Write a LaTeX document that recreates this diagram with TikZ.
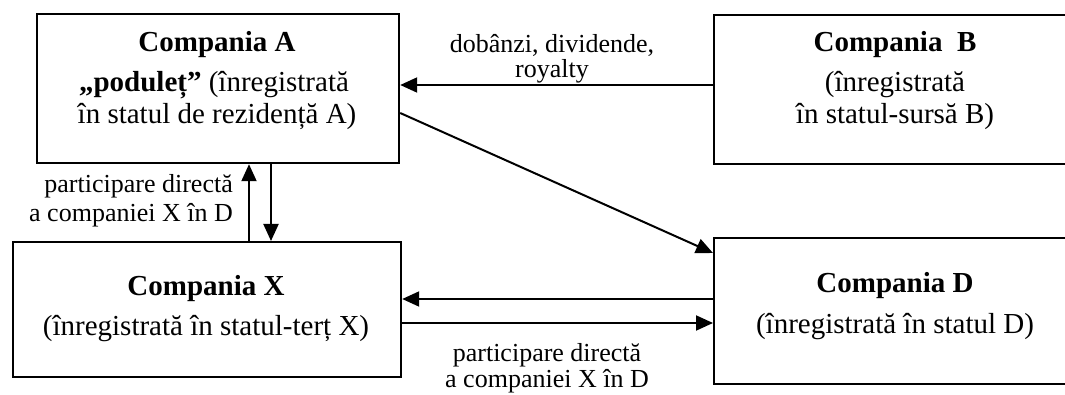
\documentclass[tikz,border=0pt]{standalone}
\usepackage{fontspec}
\setmainfont{Liberation Serif}
\usetikzlibrary{arrows.meta}
\begin{document}
\begin{tikzpicture}[x=1pt,y=-1pt,
  box/.style={draw, line width=2.2pt, rectangle, anchor=north west, inner sep=0pt},
  ttl/.style={font=\fontsize{29}{33}\selectfont\bfseries, anchor=base, inner sep=0pt},
  txt/.style={font=\fontsize{29}{33}\selectfont, anchor=base, inner sep=0pt},
  lbl/.style={font=\fontsize{26}{29}\selectfont, anchor=base, inner sep=0pt},
  arr/.style={line width=2pt, -{Triangle[length=17pt,width=15pt]}},
  ln/.style={line width=2pt}]
\clip (0,0) rectangle (1065,395);
\fill[white] (0,0) rectangle (1065,395);
% boxes
\node[box, minimum width=362pt, minimum height=149pt] (A) at (36,13) {};
\node[box, minimum width=364pt, minimum height=149pt] (B) at (713,14) {};
\node[box, minimum width=388pt, minimum height=135pt] (X) at (12,241) {};
\node[box, minimum width=364pt, minimum height=146pt] (D) at (713,237) {};
% box texts
\node[ttl] (tA1) at (217,52) {Compania A};
\node[txt] (tA2) at (214,92) {{\bfseries „poduleț”} (înregistrată};
\node[txt] (tA3) at (217,124) {în statul de rezidență A)};
\node[ttl] (tB1) at (895,52) {Compania\ \ B};
\node[txt] (tB2) at (895,92) {(înregistrată};
\node[txt] (tB3) at (895,124) {în statul-sursă B)};
\node[ttl] (tX1) at (206,295) {Compania X};
\node[txt] (tX2) at (206,335) {(înregistrată în statul-terț X)};
\node[ttl] (tD1) at (895,293) {Compania D};
\node[txt] (tD2) at (895,333) {(înregistrată în statul D)};
% labels
\node[lbl] (l1a) at (552,53) {dobânzi, dividende,};
\node[lbl] (l1b) at (552,78) {royalty};
\node[lbl, anchor=base east] (l2a) at (233,193) {participare directă};
\node[lbl, anchor=base east] (l2b) at (233,222) {a companiei X în D};
\node[lbl] (l3a) at (547,361) {participare directă};
\node[lbl] (l3b) at (547,387) {a companiei X în D};
% helper coordinates
\coordinate (r1) at (0,85);
\coordinate (r2) at (0,113);
\coordinate (r3) at (0,253);
\coordinate (v1) at (249,0);
\coordinate (v2) at (271,0);
\coordinate (h1) at (0,299);
\coordinate (h2) at (0,323);
% connectors
\draw[arr] (B.west |- r1) -- (A.east |- r1);
\draw[arr] (A.east |- r2) -- (D.west |- r3);
\draw[arr] (X.north -| v1) -- (A.south -| v1);
\draw[arr] (A.south -| v2) -- (X.north -| v2);
\draw[arr] (D.west |- h1) -- (X.east |- h1);
\draw[arr] (X.east |- h2) -- (D.west |- h2);
\end{tikzpicture}
\end{document}
